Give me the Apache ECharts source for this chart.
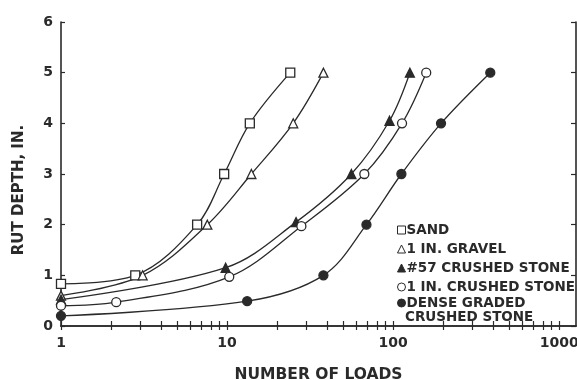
<!DOCTYPE html>
<html><head><meta charset="utf-8">
<script src="https://cdn.jsdelivr.net/npm/echarts@6/dist/echarts.min.js"></script>
<style>html,body{margin:0;padding:0;background:#fff}#c{width:577px;height:380px}</style>
</head><body><div id="c"></div>
<script>
var sandX = [1, 2.8, 6.6, 9.6, 13.7, 24];
var sandY = [0.83, 1.0, 2.0, 3.0, 4.0, 5.0];
var gravelX = [1, 3.1, 7.6, 14, 25, 38];
var gravelY = [0.6, 1.0, 2.0, 3.0, 4.0, 5.0];
var no57X = [1, 9.8, 26, 56, 95, 126];
var no57Y = [0.52, 1.15, 2.05, 3.0, 4.05, 5.0];
var circX = [1, 2.15, 10.3, 28, 67, 113, 158];
var circY = [0.4, 0.47, 0.97, 1.97, 3.0, 4.0, 5.0];
var denseX = [1, 13.2, 38, 69, 112, 194, 384];
var denseY = [0.2, 0.49, 1.0, 2.0, 3.0, 4.0, 5.0];
var xLabels = [1, 10, 100, 1000];
var xTicks = [1,2,3,4,5,6,7,8,9,10,20,30,40,50,60,70,80,90,100,200,300,400,500,600,700,800,900,1000];
var names = ['SAND', '1 IN. GRAVEL', '#57 CRUSHED STONE', '1 IN. CRUSHED STONE', 'DENSE GRADED'];
var nameCont = 'CRUSHED STONE';

function pts(xs, ys){ return xs.map(function(x,i){ return [x, ys[i]]; }); }
var INK = '#2a2a2a';
var FONT = 'DejaVu Sans';
var chart = echarts.init(document.getElementById('c'), null, {renderer:'canvas'});
function ser(name, xs, ys, symbol, filled){
  return {
    name: name, type:'line', data: pts(xs, ys), smooth: 0.35,
    symbol: symbol, symbolSize: 9,
    lineStyle: {color: INK, width: 1.3},
    itemStyle: {color: filled ? INK : '#fff', borderColor: INK, borderWidth: 1.3},
    z: 3
  };
}
var legText = {color:INK, fontFamily:FONT, fontWeight:'bold', fontSize:13.5, padding:[0,0,0,-4], lineHeight:14};
chart.setOption({
  animation:false,
  backgroundColor:'#fff',
  grid:{left:61, right:1, top:22, bottom:54, outerBoundsMode:'none', containLabel:false},
  xAxis:[{
    type:'log', logBase:10, min:1, max:1260, position:'bottom',
    name:'NUMBER OF LOADS', nameLocation:'middle', nameGap:41,
    nameTextStyle:{color:INK, fontFamily:FONT, fontWeight:'bold', fontSize:15.5},
    axisLine:{show:true, lineStyle:{color:INK, width:1.6}},
    splitLine:{show:false},
    axisTick:{show:true, inside:true, length:5, customValues:xTicks, lineStyle:{color:INK, width:1.2}},
    axisLabel:{customValues:xLabels, color:INK, fontFamily:FONT, fontWeight:'bold', fontSize:14, margin:10,
      formatter:function(v){ return String(Math.round(v)); }}
  },{
    type:'log', logBase:10, min:1, max:1260, position:'top',
    axisLine:{show:true, lineStyle:{color:INK, width:1.6}},
    splitLine:{show:false},
    axisTick:{show:true, inside:true, length:4, customValues:xTicks, lineStyle:{color:INK, width:1.2}},
    axisLabel:{show:false}
  }],
  yAxis:[{
    type:'value', min:0, max:6, interval:1, position:'left',
    name:'RUT DEPTH, IN.', nameLocation:'middle', nameGap:34, nameRotate:90,
    nameTextStyle:{color:INK, fontFamily:FONT, fontWeight:'bold', fontSize:15, padding:[0,32,0,0]},
    axisLine:{show:true, lineStyle:{color:INK, width:1.6}},
    splitLine:{show:false},
    axisTick:{show:true, inside:true, length:4, lineStyle:{color:INK, width:1.2}},
    axisLabel:{color:INK, fontFamily:FONT, fontWeight:'bold', fontSize:14, margin:8}
  },{
    type:'value', min:0, max:6, interval:1, position:'right',
    axisLine:{show:true, lineStyle:{color:INK, width:1.6}},
    splitLine:{show:false},
    axisTick:{show:true, inside:true, length:5, lineStyle:{color:INK, width:1.2}},
    axisLabel:{show:false}
  }],
  legend:[{
    orient:'vertical', left:392, top:218, itemWidth:8, itemHeight:8, itemGap:5,
    selectedMode:false, textStyle:legText,
    data:[
      {name:names[0], icon:'rect', itemStyle:{color:'#fff', borderColor:INK, borderWidth:1}},
      {name:names[1], icon:'triangle', itemStyle:{color:'#fff', borderColor:INK, borderWidth:1}},
      {name:names[2], icon:'triangle', itemStyle:{color:INK, borderColor:INK, borderWidth:1}},
      {name:names[3], icon:'circle', itemStyle:{color:'#fff', borderColor:INK, borderWidth:1}}
    ]
  },{
    orient:'vertical', left:392, top:291, itemWidth:8, itemHeight:8,
    selectedMode:false, textStyle:legText,
    data:[{name:names[4], icon:'circle', itemStyle:{color:INK, borderColor:INK, borderWidth:1}}]
  }],
  graphic:[{type:'text', left:405, top:310, style:{text:nameCont, fill:INK, font:'bold 13.5px "DejaVu Sans"'}}],
  series:[
    ser(names[0], sandX, sandY, 'rect', false),
    ser(names[1], gravelX, gravelY, 'triangle', false),
    ser(names[2], no57X, no57Y, 'triangle', true),
    ser(names[3], circX, circY, 'circle', false),
    ser(names[4], denseX, denseY, 'circle', true)
  ]
});
</script></body></html>
